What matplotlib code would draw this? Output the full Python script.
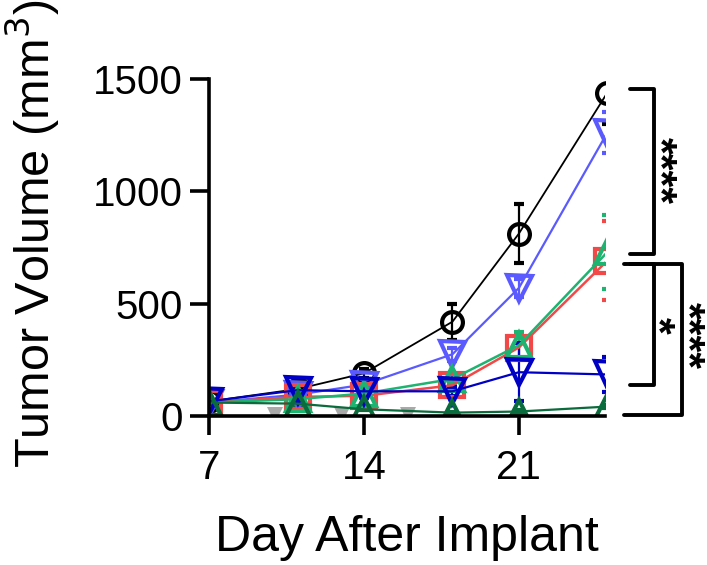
import matplotlib
matplotlib.use("Agg")
import matplotlib.pyplot as plt

plt.rcParams['font.family'] = ['Liberation Sans', 'DejaVu Sans']

days = [7, 11, 14, 18, 21, 25]

black_mean = [65, 120, 190, 420, 812, 1440]
black_err = [10, 15, 20, 80, 130, 140]

lblue_mean = [60, 95, 140, 275, 570, 1262]
lblue_err = [8, 12, 15, 30, 40, 93]

red_mean = [60, 85, 90, 137, 305, 692]
red_err = [8, 10, 12, 20, 50, 175]

green_mean = [60, 75, 100, 165, 315, 730]
green_err = [8, 10, 12, 20, 60, 165]

dblue_mean = [65, 115, 110, 110, 195, 185]
dblue_err = [8, 12, 15, 20, 130, 78]

dgreen_mean = [60, 55, 30, 15, 20, 42]
dgreen_err = [5, 5, 5, 5, 5, 5]

grey_days = [10, 13, 16]
grey_mean = [4, 4, 4]

series = [
    (black_mean, black_err, 'black', 'o', 15, 1.3),
    (lblue_mean, lblue_err, '#5a5aff', 'v', 18, 1.6),
    (red_mean, red_err, '#f24848', 's', 17, 1.8),
    (green_mean, green_err, '#1db370', '^', 17, 1.8),
    (dblue_mean, dblue_err, '#0000c4', 'v', 18, 1.6),
    (dgreen_mean, dgreen_err, '#0a6b3c', '^', 17, 1.6),
]

fig = plt.figure(figsize=(7.07, 5.65), dpi=100)
ax = fig.add_axes([0.2956, 0.2637, 0.856 - 0.2956, 0.860 - 0.2637])

ax.plot(grey_days, grey_mean, linestyle='none', marker='v', color='#a9a9a9',
        markersize=11, markeredgewidth=0)

for mean, err, col, mk, ms, lw in series:
    ax.errorbar(days, mean, yerr=err, color=col, linewidth=lw,
                elinewidth=1.6, capsize=3.5, capthick=1.6,
                marker=mk, markersize=ms, markerfacecolor='none',
                markeredgecolor=col, markeredgewidth=3)

ax.set_xlim(7, 24.9)
ax.set_ylim(0, 1500)
ax.set_xticks([7, 14, 21])
ax.set_yticks([0, 500, 1000, 1500])
ax.spines['top'].set_visible(False)
ax.spines['right'].set_visible(False)
for s in ['left', 'bottom']:
    ax.spines[s].set_linewidth(2.6)
ax.tick_params(length=14, width=2.6, labelsize=29, pad=5)
ax.tick_params(axis='x', pad=10)

ax.set_xlabel('Day After Implant', fontsize=36, labelpad=20)
ax.set_ylabel('Tumor Volume (mm$^3$)', fontsize=35)
ax.yaxis.set_label_coords(-0.37, 0.54)

# significance brackets
def bracket(x0, x1, y0, y1):
    ax.plot([x0, x1, x1, x0], [y0, y0, y1, y1], color='black',
            linewidth=2.8, clip_on=False, solid_capstyle='round')

bracket(26.0, 27.1, 1456, 723)
bracket(26.0, 27.1, 679, 138)
bracket(25.75, 28.35, 679, 4)
ax.text(27.3, 1095, '****', rotation=-90, fontsize=31, fontweight='bold',
        ha='center', va='center', clip_on=False)
ax.text(27.25, 405, '*', rotation=-90, fontsize=31, fontweight='bold',
        ha='center', va='center', clip_on=False)
ax.text(28.6, 360, '****', rotation=-90, fontsize=31, fontweight='bold',
        ha='center', va='center', clip_on=False)

fig.savefig('out.png', dpi=100)
